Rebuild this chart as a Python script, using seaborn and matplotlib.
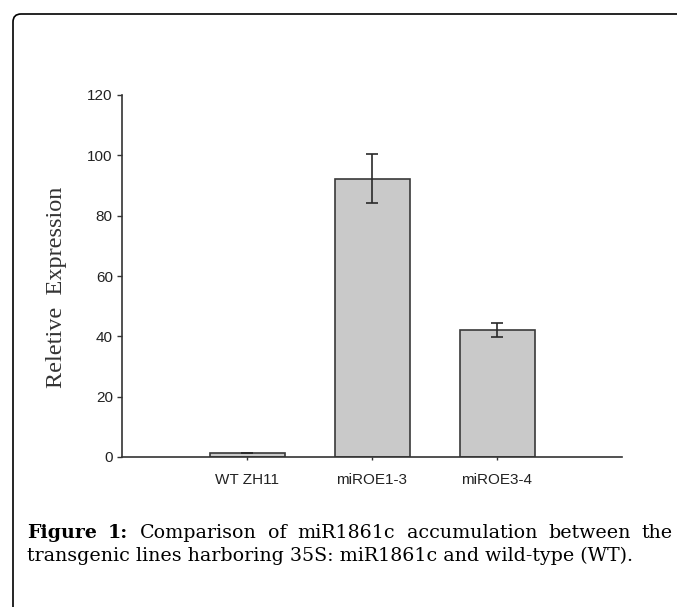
import matplotlib
matplotlib.use("Agg")
import matplotlib.pyplot as plt
import matplotlib.transforms as mtransforms
import seaborn as sns
import pandas as pd
from matplotlib.patches import FancyBboxPatch


# --- Data ---
lines = ["WT ZH11", "miROE1-3", "miROE3-4"]
expression = [1.2, 92.3, 42.1]
expression_err = [0.0, 8.1, 2.3]
y_ticks = [0, 20, 40, 60, 80, 100, 120]

caption_line1 = [("Figure", "bold"), ("1:", "bold"), ("Comparison", "normal"),
                 ("of", "normal"), ("miR1861c", "normal"), ("accumulation", "normal"),
                 ("between", "normal"), ("the", "normal")]
caption_line2 = "transgenic lines harboring 35S: miR1861c and wild-type (WT)."

df = pd.DataFrame({"line": lines, "expression": expression, "err": expression_err})


# --- Plot styling ---
sns.set_theme(style="ticks")
plt.rcParams["font.family"] = ["Liberation Sans", "DejaVu Sans"]

W, H = 677, 607
fig = plt.figure(figsize=(W / 100, H / 100), dpi=100)
ax = fig.add_axes([122 / W, 1 - 457 / H, 500 / W, 362 / H])


# --- Plot data ---
sns.barplot(
    data=df, x="line", y="expression",
    color="#c9c9c9", saturation=1, width=0.6,
    edgecolor="#3a3a3a", linewidth=1.2,
    errorbar=None, ax=ax
)
ax.errorbar(
    x=list(range(len(lines))), y=df["expression"], yerr=df["err"],
    fmt="none", ecolor="#2a2a2a", elinewidth=1.2, capsize=4, capthick=1.2
)


# --- Axes configuration ---
ax.set_xlim(-1, 3)
ax.set_ylim(0, 120)
ax.set_yticks(y_ticks)
ax.set_xlabel("")
ax.set_ylabel("Reletive  Expression", fontfamily="Liberation Serif",
              fontsize=17.5, color="#333333")
ax.yaxis.set_label_coords(-0.11, 0.47)

for side in ["top", "right"]:
    ax.spines[side].set_visible(False)
for side in ["left", "bottom"]:
    ax.spines[side].set_color("#333333")
    ax.spines[side].set_linewidth(1.2)

ax.tick_params(axis="y", direction="out", length=3.6, width=1, pad=3,
               labelsize=11, color="#333333", labelcolor="#222222")
ax.tick_params(axis="x", direction="out", length=2.5, width=1, pad=9,
               labelsize=11, color="#333333", labelcolor="#222222")


# --- Rounded frame ---
frame = FancyBboxPatch(
    (13, -40), 720, (H - 14) + 40,
    boxstyle="round,pad=0,rounding_size=8",
    transform=mtransforms.IdentityTransform(),
    fill=False, edgecolor="black", linewidth=1.2
)
fig.add_artist(frame)


# --- Caption (justified first line) ---
renderer = fig.canvas.get_renderer()
cap_font = "DejaVu Serif"
probe = fig.text(0, 0, caption_line2, fontfamily=cap_font, fontsize=12)
size = 12 * 600 / probe.get_window_extent(renderer).width
probe.remove()

x_left, x_right = 27, 673
words = [fig.text(0, 1 - 538 / H, w, fontweight=wt, fontfamily=cap_font,
                  fontsize=size, color="black", va="baseline")
         for w, wt in caption_line1]
widths = [t.get_window_extent(renderer).width for t in words]
gap = (x_right - x_left - sum(widths)) / (len(words) - 1)
x = x_left
for t, w in zip(words, widths):
    t.set_x(x / W)
    x += w + gap

fig.text(x_left / W, 1 - 561 / H, caption_line2, fontfamily=cap_font,
         fontsize=size, color="black", va="baseline")


# --- Render ---
fig.savefig("out.png", dpi=100, facecolor="white")
